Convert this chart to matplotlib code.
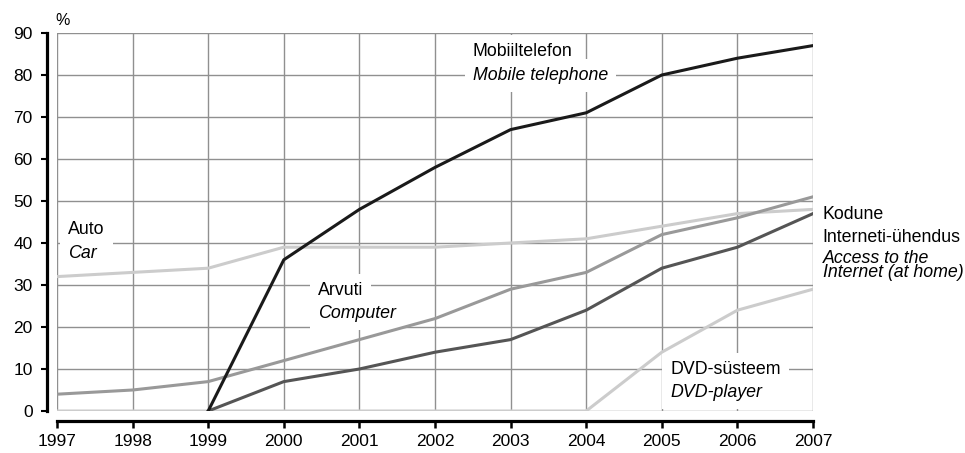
import matplotlib
matplotlib.use('Agg')
import matplotlib.pyplot as plt
import numpy as np

plt.rcParams['font.family'] = ['Liberation Sans', 'DejaVu Sans']

years = list(range(1997, 2008))

# values in %, None where the series has no value
mobile = [None, None, 0, 36, 48, 58, 67, 71, 80, 84, 87]
internet = [None, None, 0, 7, 10, 14, 17, 24, 34, 39, 47]
computer = [4, 5, 7, 12, 17, 22, 29, 33, 42, 46, 51]
car = [32, 33, 34, 39, 39, 39, 40, 41, 44, 47, 48]
dvd = [0, 0, 0, 0, 0, 0, 0, 0, 14, 24, 29]

yticks = list(range(0, 91, 10))

def arr(v):
    return np.array([np.nan if x is None else x for x in v], dtype=float)

fig = plt.figure(figsize=(9.65, 4.53), dpi=100)
ax = fig.add_axes([57/965, 42/453, 756/965, 378/453])

lw = 2.2
ax.plot(years, arr(dvd), color='#cccccc', lw=lw, zorder=4)
ax.plot(years, arr(car), color='#cccccc', lw=lw, zorder=4)
ax.plot(years, arr(computer), color='#999999', lw=lw, zorder=4)
ax.plot(years, arr(internet), color='#555555', lw=lw, zorder=4)
ax.plot(years, arr(mobile), color='#1a1a1a', lw=lw, zorder=5)

ax.set_xlim(1997, 2007)
ax.set_ylim(0, 90)
ax.set_xticks(years)
ax.set_yticks(yticks)
ax.grid(True, color='#909090', lw=1)
ax.set_axisbelow(True)

for s in ['top', 'right']:
    ax.spines[s].set_visible(False)
for s in ['left', 'bottom']:
    ax.spines[s].set_position(('outward', 7.5))
    ax.spines[s].set_linewidth(2.3)
    ax.spines[s].set_color('black')

ax.tick_params(axis='y', direction='out', length=4, width=1.5, pad=6, labelsize=12.5)
ax.tick_params(axis='x', direction='out', length=5, width=1.8, pad=4, labelsize=12.5)

fs = 12.8
box = dict(boxstyle='square,pad=0.45', fc='white', ec='none')

def label(x, y, top, bottom, dy):
    ax.text(x, y, top, fontsize=fs, va='center', ha='left', bbox=box, zorder=3)
    ax.text(x, y - dy, bottom, fontsize=fs, va='center', ha='left',
            style='italic', bbox=box, zorder=3)

label(2002.5, 85.5, 'Mobiiltelefon', 'Mobile telephone', 5.7)
label(1997.15, 43.3, 'Auto', 'Car', 5.7)
label(2000.45, 28.8, 'Arvuti', 'Computer', 5.5)
label(2005.11, 10.0, 'DVD-süsteem', 'DVD-player', 5.5)

ax.text(2007.13, 46.7, 'Kodune', fontsize=fs, va='center', ha='left')
ax.text(2007.13, 41.4, 'Interneti-ühendus', fontsize=fs, va='center', ha='left')
ax.text(2007.13, 34.7, 'Access to the\nInternet (at home)', fontsize=fs,
        va='center', ha='left', style='italic', linespacing=0.8)

ax.text(1997.08, 93.0, '%', fontsize=11.5, va='center', ha='center')

fig.savefig('out.png', dpi=100)
